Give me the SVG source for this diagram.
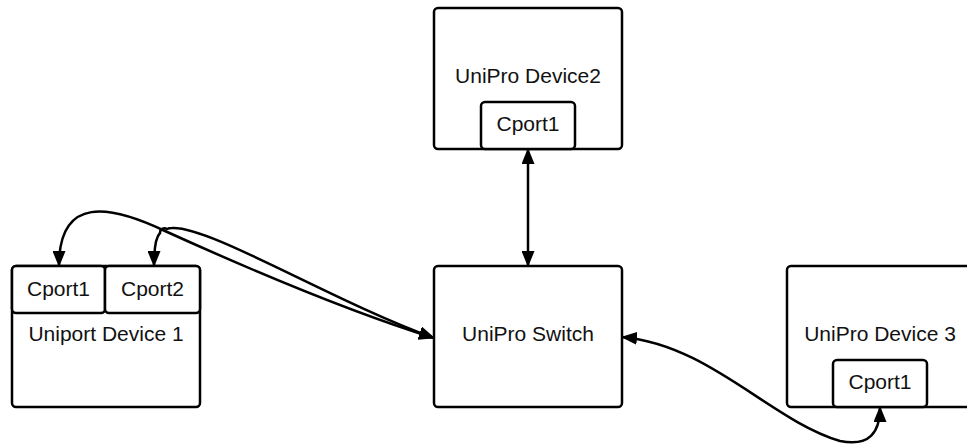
<svg xmlns="http://www.w3.org/2000/svg" width="967" height="444" viewBox="0 0 967 444">
  <defs>
    <marker id="arrow" viewBox="0 0 16 13" refX="15" refY="6.5" markerWidth="16" markerHeight="13" markerUnits="userSpaceOnUse" orient="auto-start-reverse">
      <path d="M0,0 L16,6.5 L0,13 Z" fill="#000"/>
    </marker>
    <style>
      .box { fill: #fff; stroke: #000; stroke-width: 2.5; }
      .lbl { font-family: "Liberation Sans", Arial, sans-serif; font-size: 21px; fill: #111; text-anchor: middle; }
      .wire { fill: none; stroke: #000; stroke-width: 2.5; }
    </style>
  </defs>
  <rect width="967" height="444" fill="#fff"/>

  <!-- devices -->
  <g id="uniport-device-1">
    <rect class="box" x="12" y="266" width="188" height="141" rx="4"/>
    <text class="lbl" x="106" y="341">Uniport Device 1</text>
  </g>
  <g id="dev1-cport1">
    <rect class="box" x="12" y="266" width="93" height="47" rx="4"/>
    <text class="lbl" x="58.5" y="296">Cport1</text>
  </g>
  <g id="dev1-cport2">
    <rect class="box" x="105" y="266" width="95" height="47" rx="4"/>
    <text class="lbl" x="152.5" y="296">Cport2</text>
  </g>

  <g id="unipro-device-2">
    <rect class="box" x="434" y="8" width="188" height="141" rx="4"/>
    <text class="lbl" x="528" y="83">UniPro Device2</text>
  </g>
  <g id="dev2-cport1">
    <rect class="box" x="481" y="102" width="94" height="47" rx="4"/>
    <text class="lbl" x="528" y="131">Cport1</text>
  </g>

  <g id="unipro-switch">
    <rect class="box" x="434" y="266" width="188" height="141" rx="4"/>
    <text class="lbl" x="528" y="341">UniPro Switch</text>
  </g>

  <g id="unipro-device-3">
    <rect class="box" x="787" y="266" width="200" height="141" rx="4"/>
    <text class="lbl" x="880" y="341">UniPro Device 3</text>
  </g>
  <g id="dev3-cport1">
    <rect class="box" x="833" y="360" width="94" height="47" rx="4"/>
    <text class="lbl" x="880" y="389">Cport1</text>
  </g>

  <!-- links -->
  <g id="connectors">
    <path class="wire" marker-start="url(#arrow)" marker-end="url(#arrow)" d="M59,266 C59,195 110,205 165,231 C240,265 350,312 434,338"/>
    <path class="wire" marker-start="url(#arrow)" marker-end="url(#arrow)" d="M154,266 C154,248 156,237 160,233 A4.5,4.5 0 0 1 167,229 C169,228 170,228 172,228 C210,226 330,300 434,338"/>
    <path class="wire" marker-start="url(#arrow)" marker-end="url(#arrow)" d="M528,149 L528,266"/>
    <path class="wire" marker-start="url(#arrow)" marker-end="url(#arrow)" d="M622,337 C710,345 770,420 840,441 C870,447 880,432 880,407"/>
  </g>
</svg>
